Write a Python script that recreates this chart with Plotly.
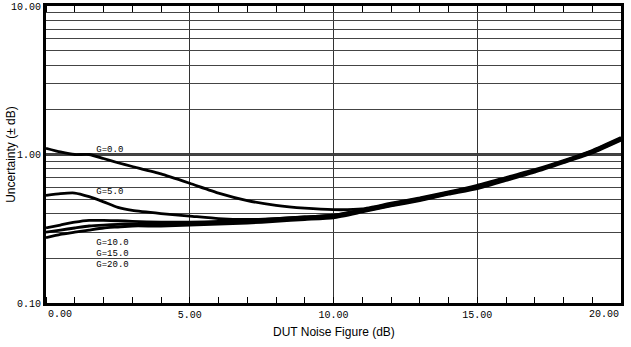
import plotly.graph_objects as go

# DUT noise figure (dB)
nf = [0, 0.5, 1, 1.5, 2, 2.5, 3, 4, 5, 6, 7, 8, 9, 10, 11, 12, 13, 14, 15, 16, 17, 18, 19, 20]

# Uncertainty (± dB) for each second-stage gain
g0 = [1.10, 1.04, 1.00, 1.00, 0.94, 0.88, 0.83, 0.74, 0.64, 0.55, 0.49, 0.455, 0.435, 0.425, 0.43, 0.47, 0.51, 0.56, 0.62, 0.70, 0.79, 0.91, 1.065, 1.30]
g5 = [0.53, 0.545, 0.55, 0.52, 0.48, 0.44, 0.42, 0.40, 0.385, 0.37, 0.365, 0.37, 0.38, 0.39, 0.425, 0.465, 0.505, 0.555, 0.61, 0.69, 0.78, 0.90, 1.055, 1.285]
g10 = [0.32, 0.335, 0.35, 0.36, 0.36, 0.358, 0.355, 0.35, 0.35, 0.355, 0.36, 0.37, 0.38, 0.39, 0.42, 0.46, 0.50, 0.55, 0.605, 0.685, 0.775, 0.895, 1.045, 1.275]
g15 = [0.30, 0.31, 0.32, 0.33, 0.335, 0.338, 0.34, 0.34, 0.34, 0.345, 0.35, 0.36, 0.37, 0.385, 0.415, 0.455, 0.495, 0.545, 0.60, 0.68, 0.77, 0.89, 1.035, 1.265]
g20 = [0.275, 0.29, 0.30, 0.31, 0.32, 0.325, 0.33, 0.33, 0.335, 0.34, 0.345, 0.355, 0.365, 0.375, 0.41, 0.45, 0.49, 0.54, 0.59, 0.67, 0.76, 0.88, 1.025, 1.25]

series = [("G=0.0", g0), ("G=5.0", g5), ("G=10.0", g10), ("G=15.0", g15), ("G=20.0", g20)]

# curve labels: text, x, y
label_text = ["G=0.0", "G=5.0", "G=10.0", "G=15.0", "G=20.0"]
label_x = [1.75, 1.75, 1.75, 1.75, 1.75]
label_y = [1.07, 0.56, 0.255, 0.216, 0.182]

x_ticks = [0, 5, 10, 15, 20]
x_ticktext = ["0.00", "5.00", "10.00", "15.00", "20.00"]
y_grid = [0.1, 0.2, 0.3, 0.4, 0.5, 0.6, 0.7, 0.8, 0.9, 1, 2, 3, 4, 5, 6, 7, 8, 9, 10]
y_labels = {0.1: "0.10", 1: "1.00", 10: "10.00"}

fig = go.Figure()
for name, vals in series:
    fig.add_trace(go.Scatter(x=nf, y=vals, mode="lines", name=name,
                             line=dict(color="black", width=2.8, shape="spline", smoothing=0.5),
                             showlegend=False, hoverinfo="skip"))

fig.add_trace(go.Scatter(x=label_x, y=label_y, mode="text", text=label_text,
                         textposition="middle right", showlegend=False, hoverinfo="skip",
                         textfont=dict(family="Liberation Mono, monospace", size=9, color="black")))

# heavier 1.00 gridline
fig.add_hline(y=1, line=dict(color="black", width=2.5), layer="below")

mono = dict(family="Liberation Mono, DejaVu Sans Mono, monospace", size=10, color="black")
sans = dict(family="Liberation Sans, Arial, sans-serif", size=12, color="black")

# inner x tick labels on the axis; the two end labels are aligned inward like the reference
inner_text = [t if 0 < v < 20 else "" for v, t in zip(x_ticks, x_ticktext)]

fig.update_xaxes(range=[0, 20], tickvals=x_ticks, ticktext=inner_text, tickfont=mono,
                 automargin=False,
                 showgrid=True, gridcolor="#333", gridwidth=1,
                 showline=True, linecolor="black", linewidth=3, mirror="ticks",
                 ticks="", zeroline=False,
                 minor=dict(dtick=1, ticks="inside", ticklen=6, tickcolor="black", tickwidth=1, showgrid=False))

fig.update_yaxes(type="log", range=[-1, 1], tickvals=y_grid,
                 ticktext=[y_labels.get(v, "") for v in y_grid], tickfont=mono,
                 automargin=False,
                 showgrid=True, gridcolor="#444", gridwidth=1,
                 showline=True, linecolor="black", linewidth=3, mirror=True,
                 ticks="", zeroline=False)

fig.add_annotation(text=x_ticktext[0], xref="x", yref="paper", x=x_ticks[0], y=-0.04,
                   xanchor="left", yanchor="middle", showarrow=False, font=mono)
fig.add_annotation(text=x_ticktext[-1], xref="x", yref="paper", x=x_ticks[-1], y=-0.04,
                   xanchor="right", yanchor="middle", showarrow=False, font=mono)

fig.add_annotation(text="Uncertainty (± dB)", xref="paper", yref="paper", x=-0.062, y=0.5,
                   xanchor="center", yanchor="middle", textangle=-90, showarrow=False, font=sans)
fig.add_annotation(text="DUT Noise Figure (dB)", xref="paper", yref="paper", x=0.5, y=-0.099,
                   xanchor="center", yanchor="middle", showarrow=False, font=sans)

fig.update_layout(width=631, height=347, margin=dict(l=46, r=10, t=6, b=44),
                  plot_bgcolor="white", paper_bgcolor="white")

fig.write_html("out.html", config={"displayModeBar": False},
               post_script="document.body.style.margin='0';")
